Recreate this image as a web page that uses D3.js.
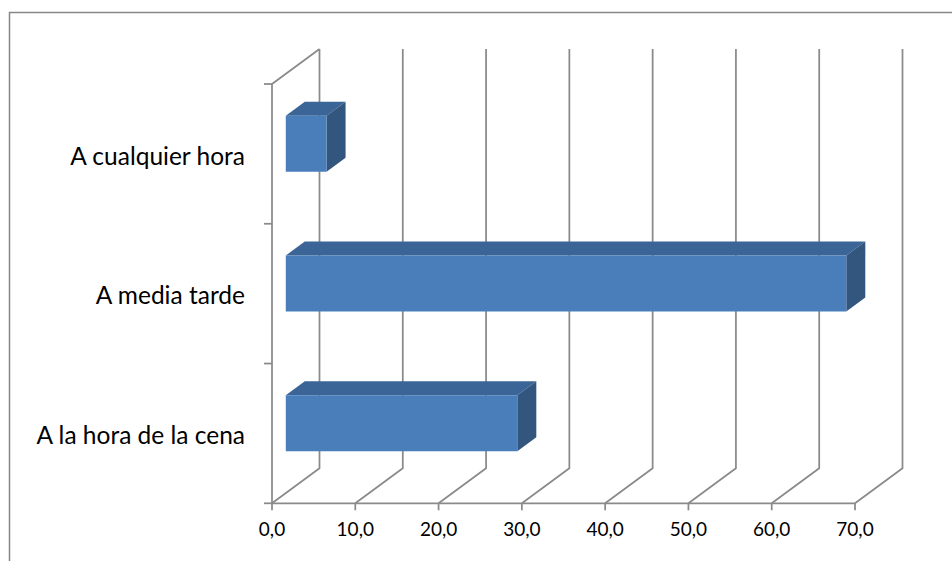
<!DOCTYPE html>
<html>
<head>
<meta charset="utf-8">
<script src="https://cdn.jsdelivr.net/npm/d3@7"></script>
<style>
  html, body { margin: 0; padding: 0; background: #fff; }
  svg { display: block; }
  text { font-family: Lato, "Open Sans", sans-serif; fill: #000; }
</style>
</head>
<body>
<svg id="chart" width="952" height="561"></svg>
<script>
// Categories (top to bottom) and their percentages
const categories = ["A cualquier hora", "A media tarde", "A la hora de la cena"];
const values = [4.9, 67.3, 27.8];
const tickValues = [0, 10, 20, 30, 40, 50, 60, 70];
const tickLabels = ["0,0", "10,0", "20,0", "30,0", "40,0", "50,0", "60,0", "70,0"];

const svg = d3.select("#chart");

// Outer chart frame
svg.append("path")
  .attr("d", "M9.5,561 L9.5,12.5 L952,12.5")
  .attr("fill", "none")
  .attr("stroke", "#878787")
  .attr("stroke-width", 1.5);

// Front plane scales
const x = d3.scaleLinear().domain([0, 70]).range([272, 855]);
const y = d3.scaleBand().domain(categories).range([84, 503.3]).paddingInner(0).paddingOuter(0);
const yBar = d3.scaleBand().domain(categories).range([84, 503.3]).paddingInner(0.6).paddingOuter(0.3);

// Depth of the 3D box and position of the bars within it
const DX = 47.5, DY = -35;
const dFront = 0.29, dBack = 0.69;
const floorY = 503.3, topY = 84;

function pt(px, py, d) { return [px + d * DX, py + d * DY]; }
const line = d3.line();

const gridColor = "#8a8a8a";
const g = svg.append("g");

// Back wall gridlines with their floor diagonals
tickValues.forEach(t => {
  const bt = pt(x(t), topY, 1), bb = pt(x(t), floorY, 1), f = [x(t), floorY];
  g.append("path").attr("d", line([bt, bb, f]))
    .attr("fill", "none").attr("stroke", gridColor).attr("stroke-width", 1.75);
  // tick mark on the value axis
  g.append("line").attr("x1", x(t)).attr("x2", x(t)).attr("y1", floorY).attr("y2", floorY + 7)
    .attr("stroke", gridColor).attr("stroke-width", 1.75);
});

// Left side wall edges and front floor edge
g.append("path").attr("d", line([pt(x(0), topY, 1), [x(0), topY], [x(0), floorY], [x(70), floorY]]))
  .attr("fill", "none").attr("stroke", gridColor).attr("stroke-width", 1.75);

// Category axis tick marks
const catTicks = categories.map(c => y(c)).concat([floorY]);
catTicks.forEach(ty => {
  g.append("line").attr("x1", x(0) - 8).attr("x2", x(0)).attr("y1", ty).attr("y2", ty)
    .attr("stroke", gridColor).attr("stroke-width", 1.75);
});

// Bars as 3D boxes
const bars = svg.append("g");
categories.forEach((c, i) => {
  const y0 = yBar(c), y1 = yBar(c) + yBar.bandwidth();
  const x0 = x(0), x1 = x(values[i]);
  const fTL = pt(x0, y0, dFront), fTR = pt(x1, y0, dFront), fBR = pt(x1, y1, dFront), fBL = pt(x0, y1, dFront);
  const bTL = pt(x0, y0, dBack), bTR = pt(x1, y0, dBack), bBR = pt(x1, y1, dBack);
  // top face
  bars.append("path").attr("d", line([fTL, bTL, bTR, fTR]) + "Z").attr("fill", "#3b6497");
  // right face
  bars.append("path").attr("d", line([fTR, bTR, bBR, fBR]) + "Z").attr("fill", "#33567f");
  // front face
  bars.append("path").attr("d", line([fTL, fTR, fBR, fBL]) + "Z").attr("fill", "#4a7ebb");
});

// Category labels
svg.append("g").selectAll("text").data(categories).join("text")
  .attr("x", 245)
  .attr("y", c => y(c) + y.bandwidth() / 2 + 10.8)
  .attr("text-anchor", "end")
  .attr("font-size", 24.5)
  .text(c => c);

// Value axis labels
svg.append("g").selectAll("text").data(tickValues).join("text")
  .attr("x", t => x(t))
  .attr("y", 536)
  .attr("text-anchor", "middle")
  .attr("font-size", 19)
  .text((t, i) => tickLabels[i]);
</script>
</body>
</html>
